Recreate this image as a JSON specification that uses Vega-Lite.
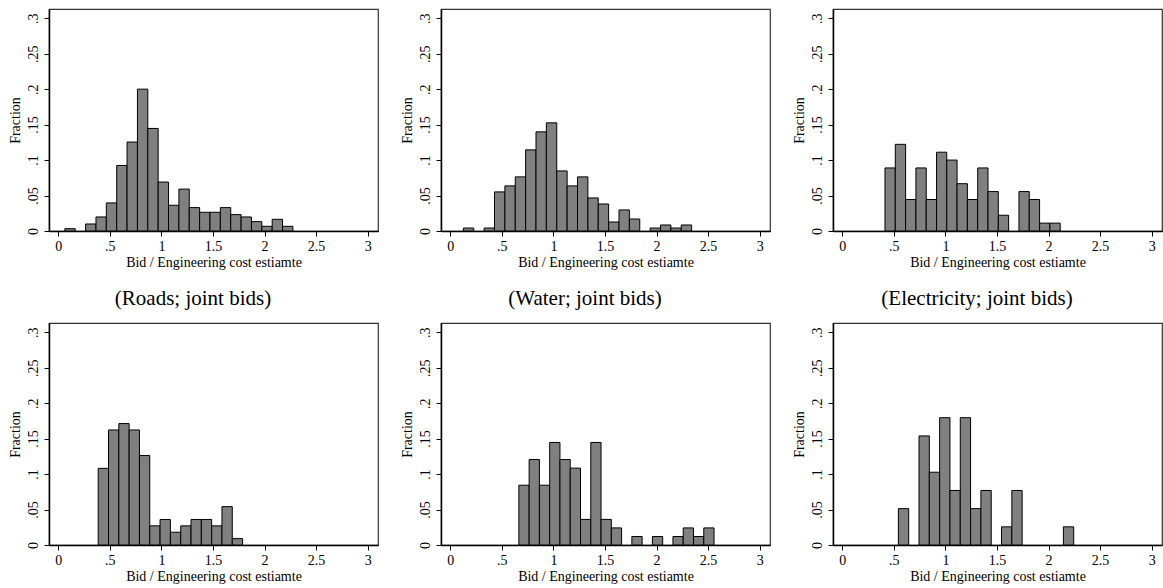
{
  "$schema": "https://vega.github.io/schema/vega-lite/v6.json",
  "autosize": {"type": "pad"},
  "padding": {"left": 7, "top": 8, "right": 0, "bottom": 0},
  "background": "white",
  "bounds": "flush",
  "columns": 3,
  "spacing": {"row": 92, "column": 63},
  "datasets": {
    "roads_s": [
      {"b0": 0.064, "b1": 0.1645, "frac": 0.0033},
      {"b0": 0.265, "b1": 0.3655, "frac": 0.0099},
      {"b0": 0.3655, "b1": 0.466, "frac": 0.0198},
      {"b0": 0.466, "b1": 0.5665, "frac": 0.0396},
      {"b0": 0.5665, "b1": 0.667, "frac": 0.0924},
      {"b0": 0.667, "b1": 0.7675, "frac": 0.1254},
      {"b0": 0.7675, "b1": 0.868, "frac": 0.2},
      {"b0": 0.868, "b1": 0.9685, "frac": 0.1446},
      {"b0": 0.9685, "b1": 1.069, "frac": 0.0690},
      {"b0": 1.069, "b1": 1.1695, "frac": 0.0363},
      {"b0": 1.1695, "b1": 1.27, "frac": 0.0591},
      {"b0": 1.27, "b1": 1.3705, "frac": 0.0330},
      {"b0": 1.3705, "b1": 1.471, "frac": 0.0264},
      {"b0": 1.471, "b1": 1.5715, "frac": 0.0264},
      {"b0": 1.5715, "b1": 1.672, "frac": 0.0330},
      {"b0": 1.672, "b1": 1.7725, "frac": 0.0231},
      {"b0": 1.7725, "b1": 1.873, "frac": 0.0198},
      {"b0": 1.873, "b1": 1.9735, "frac": 0.0132},
      {"b0": 1.9735, "b1": 2.074, "frac": 0.0066},
      {"b0": 2.074, "b1": 2.1745, "frac": 0.0165},
      {"b0": 2.1745, "b1": 2.275, "frac": 0.0066}
    ],
    "water_s": [
      {"b0": 0.127, "b1": 0.2276, "frac": 0.0042},
      {"b0": 0.3282, "b1": 0.4288, "frac": 0.0042},
      {"b0": 0.4288, "b1": 0.5294, "frac": 0.0551},
      {"b0": 0.5294, "b1": 0.63, "frac": 0.0636},
      {"b0": 0.63, "b1": 0.7306, "frac": 0.0763},
      {"b0": 0.7306, "b1": 0.8312, "frac": 0.1144},
      {"b0": 0.8312, "b1": 0.9318, "frac": 0.1398},
      {"b0": 0.9318, "b1": 1.0324, "frac": 0.1525},
      {"b0": 1.0324, "b1": 1.133, "frac": 0.0847},
      {"b0": 1.133, "b1": 1.2336, "frac": 0.0636},
      {"b0": 1.2336, "b1": 1.3342, "frac": 0.0763},
      {"b0": 1.3342, "b1": 1.4348, "frac": 0.0466},
      {"b0": 1.4348, "b1": 1.5354, "frac": 0.0381},
      {"b0": 1.5354, "b1": 1.636, "frac": 0.0127},
      {"b0": 1.636, "b1": 1.7366, "frac": 0.0297},
      {"b0": 1.7366, "b1": 1.8372, "frac": 0.0169},
      {"b0": 1.9378, "b1": 2.0384, "frac": 0.0042},
      {"b0": 2.0384, "b1": 2.139, "frac": 0.0085},
      {"b0": 2.139, "b1": 2.2396, "frac": 0.0042},
      {"b0": 2.2396, "b1": 2.34, "frac": 0.0085}
    ],
    "elec_s": [
      {"b0": 0.414, "b1": 0.514, "frac": 0.0889},
      {"b0": 0.514, "b1": 0.614, "frac": 0.1222},
      {"b0": 0.614, "b1": 0.714, "frac": 0.0444},
      {"b0": 0.714, "b1": 0.814, "frac": 0.0889},
      {"b0": 0.814, "b1": 0.914, "frac": 0.0444},
      {"b0": 0.914, "b1": 1.013, "frac": 0.1111},
      {"b0": 1.013, "b1": 1.113, "frac": 0.1},
      {"b0": 1.113, "b1": 1.213, "frac": 0.0667},
      {"b0": 1.213, "b1": 1.313, "frac": 0.0444},
      {"b0": 1.313, "b1": 1.413, "frac": 0.0889},
      {"b0": 1.413, "b1": 1.513, "frac": 0.0556},
      {"b0": 1.513, "b1": 1.613, "frac": 0.0222},
      {"b0": 1.713, "b1": 1.813, "frac": 0.0556},
      {"b0": 1.813, "b1": 1.913, "frac": 0.0444},
      {"b0": 1.913, "b1": 2.013, "frac": 0.0111},
      {"b0": 2.013, "b1": 2.113, "frac": 0.0111}
    ],
    "roads_j": [
      {"b0": 0.387, "b1": 0.487, "frac": 0.1081},
      {"b0": 0.487, "b1": 0.587, "frac": 0.1622},
      {"b0": 0.587, "b1": 0.687, "frac": 0.1712},
      {"b0": 0.687, "b1": 0.787, "frac": 0.1622},
      {"b0": 0.787, "b1": 0.887, "frac": 0.1261},
      {"b0": 0.887, "b1": 0.987, "frac": 0.027},
      {"b0": 0.987, "b1": 1.087, "frac": 0.036},
      {"b0": 1.087, "b1": 1.187, "frac": 0.018},
      {"b0": 1.187, "b1": 1.287, "frac": 0.027},
      {"b0": 1.287, "b1": 1.387, "frac": 0.036},
      {"b0": 1.387, "b1": 1.487, "frac": 0.036},
      {"b0": 1.487, "b1": 1.587, "frac": 0.027},
      {"b0": 1.587, "b1": 1.687, "frac": 0.0541},
      {"b0": 1.687, "b1": 1.787, "frac": 0.009}
    ],
    "water_j": [
      {"b0": 0.665, "b1": 0.7646, "frac": 0.0843},
      {"b0": 0.7646, "b1": 0.8642, "frac": 0.1205},
      {"b0": 0.8642, "b1": 0.9638, "frac": 0.0843},
      {"b0": 0.9638, "b1": 1.0634, "frac": 0.1446},
      {"b0": 1.0634, "b1": 1.163, "frac": 0.1205},
      {"b0": 1.163, "b1": 1.2626, "frac": 0.1084},
      {"b0": 1.2626, "b1": 1.3622, "frac": 0.0361},
      {"b0": 1.3622, "b1": 1.4618, "frac": 0.1446},
      {"b0": 1.4618, "b1": 1.5614, "frac": 0.0361},
      {"b0": 1.5614, "b1": 1.661, "frac": 0.0241},
      {"b0": 1.7606, "b1": 1.8602, "frac": 0.012},
      {"b0": 1.9598, "b1": 2.0594, "frac": 0.012},
      {"b0": 2.159, "b1": 2.2586, "frac": 0.012},
      {"b0": 2.2586, "b1": 2.3582, "frac": 0.0241},
      {"b0": 2.3582, "b1": 2.4578, "frac": 0.012},
      {"b0": 2.4578, "b1": 2.5574, "frac": 0.0241}
    ],
    "elec_j": [
      {"b0": 0.544, "b1": 0.644, "frac": 0.0513},
      {"b0": 0.744, "b1": 0.844, "frac": 0.1538},
      {"b0": 0.844, "b1": 0.944, "frac": 0.1026},
      {"b0": 0.944, "b1": 1.044, "frac": 0.1795},
      {"b0": 1.044, "b1": 1.144, "frac": 0.0769},
      {"b0": 1.144, "b1": 1.244, "frac": 0.1795},
      {"b0": 1.244, "b1": 1.344, "frac": 0.0513},
      {"b0": 1.344, "b1": 1.444, "frac": 0.0769},
      {"b0": 1.544, "b1": 1.644, "frac": 0.0256},
      {"b0": 1.644, "b1": 1.744, "frac": 0.0769},
      {"b0": 2.144, "b1": 2.244, "frac": 0.0256}
    ]
  },
  "concat": [
    {"width": 329, "height": 222, "data": {"name": "roads_s"}, "mark": {"type": "bar", "fill": "#808080", "stroke": "#000000", "strokeWidth": 1},
     "encoding": {"x": {"field": "b0", "type": "quantitative", "scale": {"domain": [-0.09, 3.1], "nice": false, "zero": false}, "title": "Bid / Engineering cost estiamte"}, "x2": {"field": "b1"}, "y": {"field": "frac", "type": "quantitative", "scale": {"domain": [0, 0.313], "nice": false}, "title": "Fraction"}, "y2": {"datum": 0}}},
    {"width": 329, "height": 222, "data": {"name": "water_s"}, "mark": {"type": "bar", "fill": "#808080", "stroke": "#000000", "strokeWidth": 1},
     "encoding": {"x": {"field": "b0", "type": "quantitative", "scale": {"domain": [-0.09, 3.1], "nice": false, "zero": false}, "title": "Bid / Engineering cost estiamte"}, "x2": {"field": "b1"}, "y": {"field": "frac", "type": "quantitative", "scale": {"domain": [0, 0.313], "nice": false}, "title": "Fraction"}, "y2": {"datum": 0}}},
    {"width": 329, "height": 222, "data": {"name": "elec_s"}, "mark": {"type": "bar", "fill": "#808080", "stroke": "#000000", "strokeWidth": 1},
     "encoding": {"x": {"field": "b0", "type": "quantitative", "scale": {"domain": [-0.09, 3.1], "nice": false, "zero": false}, "title": "Bid / Engineering cost estiamte"}, "x2": {"field": "b1"}, "y": {"field": "frac", "type": "quantitative", "scale": {"domain": [0, 0.313], "nice": false}, "title": "Fraction"}, "y2": {"datum": 0}}},
    {"width": 329, "height": 222, "data": {"name": "roads_j"}, "title": {"text": "(Roads; joint bids)"}, "mark": {"type": "bar", "fill": "#808080", "stroke": "#000000", "strokeWidth": 1},
     "encoding": {"x": {"field": "b0", "type": "quantitative", "scale": {"domain": [-0.09, 3.1], "nice": false, "zero": false}, "title": "Bid / Engineering cost estiamte"}, "x2": {"field": "b1"}, "y": {"field": "frac", "type": "quantitative", "scale": {"domain": [0, 0.313], "nice": false}, "title": "Fraction"}, "y2": {"datum": 0}}},
    {"width": 329, "height": 222, "data": {"name": "water_j"}, "title": {"text": "(Water; joint bids)"}, "mark": {"type": "bar", "fill": "#808080", "stroke": "#000000", "strokeWidth": 1},
     "encoding": {"x": {"field": "b0", "type": "quantitative", "scale": {"domain": [-0.09, 3.1], "nice": false, "zero": false}, "title": "Bid / Engineering cost estiamte"}, "x2": {"field": "b1"}, "y": {"field": "frac", "type": "quantitative", "scale": {"domain": [0, 0.313], "nice": false}, "title": "Fraction"}, "y2": {"datum": 0}}},
    {"width": 329, "height": 222, "data": {"name": "elec_j"}, "title": {"text": "(Electricity; joint bids)"}, "mark": {"type": "bar", "fill": "#808080", "stroke": "#000000", "strokeWidth": 1},
     "encoding": {"x": {"field": "b0", "type": "quantitative", "scale": {"domain": [-0.09, 3.1], "nice": false, "zero": false}, "title": "Bid / Engineering cost estiamte"}, "x2": {"field": "b1"}, "y": {"field": "frac", "type": "quantitative", "scale": {"domain": [0, 0.313], "nice": false}, "title": "Fraction"}, "y2": {"datum": 0}}}
  ],
  "config": {
    "font": "Liberation Serif",
    "view": {"stroke": "#333333", "strokeWidth": 1.2},
    "title": {"font": "Liberation Serif", "fontSize": 21, "fontWeight": "normal", "color": "#000000", "anchor": "middle", "frame": "bounds", "offset": 14},
    "axis": {
      "grid": false,
      "domainColor": "#000000",
      "domainWidth": 1.5,
      "tickColor": "#000000",
      "tickSize": 5,
      "labelFont": "Liberation Serif",
      "labelFontSize": 14,
      "labelColor": "#000000",
      "titleFont": "Liberation Serif",
      "titleFontSize": 14,
      "titleFontWeight": "normal",
      "titleColor": "#000000"
    },
    "axisX": {
      "values": [0, 0.5, 1, 1.5, 2, 2.5, 3],
      "labelExpr": "replace(format(datum.value, '.1~f'), '0.', '.')",
      "labelPadding": 3,
      "titlePadding": 2
    },
    "axisY": {
      "values": [0, 0.05, 0.1, 0.15, 0.2, 0.25, 0.3],
      "labelExpr": "datum.value == 0 ? '0' : replace(format(datum.value, '.2~f'), '0.', '.')",
      "labelAngle": -90,
      "labelAlign": "center",
      "labelBaseline": "bottom",
      "labelPadding": 4,
      "titlePadding": 4
    }
  }
}
